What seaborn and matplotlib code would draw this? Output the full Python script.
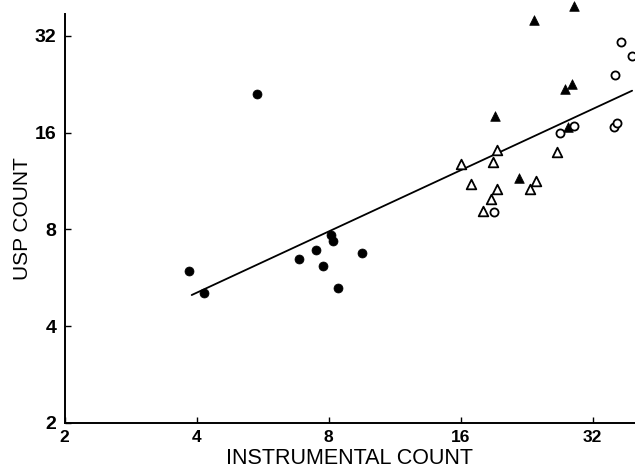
import matplotlib
matplotlib.use("Agg")
import matplotlib.pyplot as plt
import seaborn as sns
import pandas as pd
from matplotlib.ticker import FixedLocator, FixedFormatter, NullLocator

# ---- data ----
filled_circle_x = [3.85, 4.16, 5.50, 6.84, 7.48, 7.76, 8.10, 8.18, 8.42, 9.52]
filled_circle_y = [5.95, 5.08, 21.1, 6.48, 6.91, 6.15, 7.70, 7.34, 5.24, 6.75]
filled_tri_x = [29.0, 23.5, 27.7, 28.8, 19.2, 21.7, 28.1]
filled_tri_y = [39.7, 35.9, 21.9, 22.6, 18.0, 11.6, 16.7]
open_tri_x = [16.0, 19.4, 19.0, 16.9, 19.4, 18.8, 18.0, 23.8, 23.0, 26.5]
open_tri_y = [12.8, 14.1, 13.0, 11.1, 10.7, 9.96, 9.14, 11.3, 10.7, 13.9]
open_circle_x = [19.05, 27.0, 29.0, 35.9, 36.4, 36.0, 37.2, 39.4]
open_circle_y = [9.06, 15.9, 16.8, 16.6, 17.2, 24.2, 30.6, 27.6]
line_x = [3.9, 39.4]
line_y = [5.0, 21.6]
tick_values = [2, 4, 8, 16, 32]
tick_labels = ["2", "4", "8", "16", "32"]
x_label = "INSTRUMENTAL COUNT"
y_label = "USP COUNT"

sns.set_style("ticks")
plt.rcParams["font.family"] = ["Liberation Sans", "DejaVu Sans"]
plt.rcParams["text.color"] = "black"
plt.rcParams["axes.labelcolor"] = "black"
plt.rcParams["xtick.color"] = "black"
plt.rcParams["ytick.color"] = "black"

fig = plt.figure(figsize=(6.35, 4.68), dpi=100)
ax = fig.add_axes([0.1016, 0.0962, 0.8984, 0.8738])

sns.lineplot(x=line_x, y=line_y, ax=ax, color="black", linewidth=1.3, zorder=2)

sns.scatterplot(x=filled_circle_x, y=filled_circle_y, ax=ax, marker="o", s=42,
                color="black", edgecolor="black", linewidth=0.5, clip_on=False, zorder=3)
sns.scatterplot(x=filled_tri_x, y=filled_tri_y, ax=ax, marker="^", s=48,
                color="black", edgecolor="black", linewidth=0.5, clip_on=False, zorder=3)
sns.scatterplot(x=open_tri_x, y=open_tri_y, ax=ax, marker="^", s=48,
                facecolor="white", edgecolor="black", linewidth=1.3, clip_on=False, zorder=3)
sns.scatterplot(x=open_circle_x, y=open_circle_y, ax=ax, marker="o", s=34,
                facecolor="white", edgecolor="black", linewidth=1.3, clip_on=False, zorder=3)

ax.set_xscale("log", base=2)
ax.set_yscale("log", base=2)
ax.set_xlim(2, 40.0)
ax.set_ylim(2, 37.4)

for axis in (ax.xaxis, ax.yaxis):
    axis.set_major_locator(FixedLocator(tick_values))
    axis.set_major_formatter(FixedFormatter(tick_labels))
    axis.set_minor_locator(NullLocator())

ax.tick_params(direction="in", length=4, width=1.0, colors="black")
ax.tick_params(axis="x", labelsize=12.5, pad=5)
ax.tick_params(axis="y", labelsize=14, pad=6)
for lab in ax.get_xticklabels() + ax.get_yticklabels():
    lab.set_fontweight("bold")

ax.set_xlabel(x_label, fontsize=15.5, labelpad=2)
ax.set_ylabel(y_label, fontsize=15, labelpad=2)

sns.despine(ax=ax)
for sp in ("left", "bottom"):
    ax.spines[sp].set_linewidth(1.4)
    ax.spines[sp].set_color("black")

fig.savefig("out.png", dpi=100)
